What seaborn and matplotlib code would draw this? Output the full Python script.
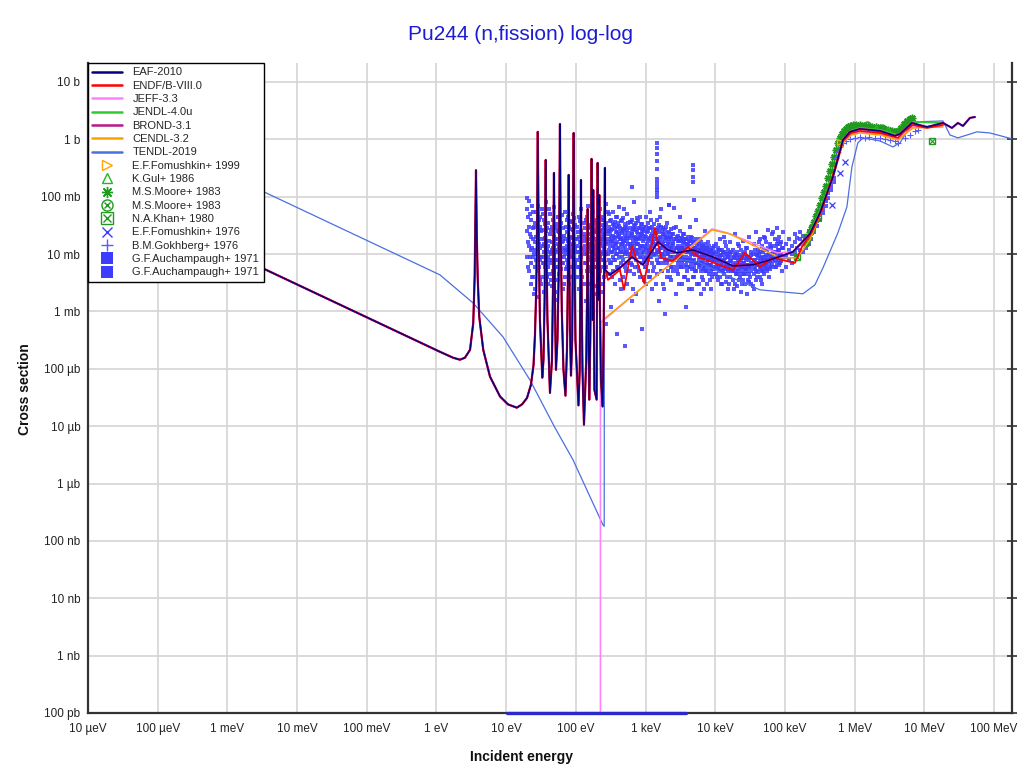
import matplotlib
matplotlib.use("Agg")
import matplotlib.pyplot as plt
from matplotlib.lines import Line2D
import pandas as pd
import seaborn as sns

# ── evaluated data (energy in eV, cross section in b) ─────────
# resolved resonance region shared by EAF-2010, ENDF/B-VIII.0, BROND-3.1
res_e = [1e-5, 3.13e-3, 1.12, 1.73, 2.17, 2.56, 3.03, 3.37, 3.53, 3.60,
         3.69, 3.78, 3.90, 4.11, 4.69, 5.86, 8.15, 10.6, 14.2, 16.9,
         19.9, 22.7, 24.7, 25.9, 27.0, 27.8, 28.4,
         29.3, 30.5, 33.0,
         34.3, 35.6, 36.3, 36.9, 37.6, 39.1, 42.5,
         45.4, 46.9, 47.8, 48.5, 49.3, 50.5, 51.8,
         54.4, 56.8, 58.1, 59.1, 60.3, 62.8, 66.4, 70.9,
         74.5, 77.1, 78.9, 80.4, 82.3, 85.1,
         88.5, 90.8, 92.9, 95.1, 98.6, 109,
         113.5, 116.1, 118.4, 120.8, 124.4, 130.7,
         141, 145, 147.6, 150, 155.6,
         161, 165.3, 168, 171.6, 173.4, 175.8, 177.8, 180.7, 184.5,
         198.6, 201.8, 205.1, 208.9, 211.3, 214.3, 217.3, 220.8, 229, 242,
         250.6, 256.8, 261.2]
res_xs = [0.154, 5.75e-3, 1.98e-4, 1.56e-4, 1.44e-4, 1.56e-4, 2.14e-4, 6.3e-4, 4.0e-3, 0.0234,
          0.29, 0.0234, 4.0e-3, 8.05e-4, 2.14e-4, 7.3e-5, 3.3e-5, 2.4e-5, 2.1e-5, 2.4e-5,
          3.1e-5, 5.3e-5, 1.17e-4, 3.9e-4, 2.4e-3, 0.039, 1.35,
          0.0177, 7.1e-4, 7.0e-5,
          1.44e-4, 1.59e-3, 0.0264, 0.437, 0.0177, 7.1e-4, 3.8e-5,
          1.44e-4, 2.38e-3, 0.0264, 0.26, 0.0177, 7.1e-4, 9.6e-5,
          3.2e-4, 5.3e-3, 0.088, 1.85, 0.039, 1.07e-3, 9.6e-5, 3.4e-5,
          2.14e-4, 5.3e-3, 0.24, 7.9e-3, 4.78e-4, 7.6e-5,
          3.2e-4, 0.0177, 1.29, 0.0118, 3.2e-4, 2.3e-5,
          9.6e-5, 3.55e-3, 0.196, 2.38e-3, 9.6e-5, 1.06e-5,
          1.44e-4, 2.38e-3, 0.0612, 1.59e-3, 2.9e-5,
          3.2e-4, 0.0118, 0.456, 5.3e-3, 7.1e-4, 0.0118, 0.131, 1.59e-3, 4.3e-5,
          2.9e-5, 7.9e-3, 0.388, 0.0118, 1.59e-3, 0.0118, 0.107, 1.59e-3, 6.4e-5, 2.2e-5,
          4.78e-4, 0.0177, 0.318]

eaf_fast_e = [263.7, 308, 429, 638, 918, 1507, 2095, 2822, 4786, 9268,
              17950, 34750, 55200, 1.30e5, 2.28e5, 3.18e5, 4.88e5, 6.80e5, 8.56e5, 1.19e6,
              2.31e6, 3.78e6, 4.46e6, 6.64e6, 1.09e7, 1.85e7, 2.49e7, 3.03e7, 3.58e7, 4.51e7,
              5.32e7]
eaf_fast_xs = [5.3e-3, 4.34e-3, 5.75e-3, 8.9e-3, 6.5e-3, 0.0163, 0.0118, 0.0105, 0.0118, 8.9e-3,
               6.2e-3, 6.5e-3, 7.6e-3, 0.0109, 0.0225, 0.0522, 0.221, 0.977, 1.35, 1.52,
               1.40, 1.15, 1.24, 1.93, 1.64, 1.93, 1.58, 1.93, 1.71, 2.36,
               2.45]

endf_fast_e = [263.7, 289, 429, 490, 638, 948, 1365, 1663, 2472, 4055,
               5650, 17950, 26670, 43750, 67300, 1.39e5, 1.75e5, 2.44e5, 3.39e5, 4.88e5,
               6.8e5, 8.85e5, 1.19e6, 2.31e6, 4.18e6, 5.27e6, 6.86e6, 1.09e7, 1.85e7]
endf_fast_xs = [5.3e-3, 3.55e-3, 5.3e-3, 2.38e-3, 0.0139, 3.15e-3, 0.0286, 8.6e-3, 7.6e-3, 0.0133,
                8.9e-3, 5.3e-3, 0.0105, 6.0e-3, 8.6e-3, 7.0e-3, 0.0133, 0.0244, 0.0589, 0.24,
                0.938, 1.29, 1.40, 1.29, 1.06, 1.40, 1.78, 1.58, 1.78]

jeff_e = [225, 225, 8970, 14720, 31480, 76700, 1.30e5, 2.07e5, 3.18e5, 4.88e5,
          6.8e5, 8.85e5, 1.19e6, 2.31e6, 4.18e6, 6.86e6, 1.85e7]
jeff_xs = [1e-13, 6.3e-4, 0.0275, 0.0234, 0.0163, 0.0105, 0.0109, 0.0177, 0.0543, 0.221,
           0.901, 1.24, 1.35, 1.24, 0.977, 1.64, 1.71]

cendl_e = [245, 8970, 16270, 31480, 84800, 1.49e5, 2.28e5, 3.18e5, 4.88e5, 6.8e5,
           8.85e5, 1.19e6, 2.31e6, 4.18e6, 6.86e6, 1.85e7]
cendl_xs = [7.1e-4, 0.0264, 0.0225, 0.0151, 8.6e-3, 8.6e-3, 0.0177, 0.0482, 0.213, 0.866,
            1.19, 1.29, 1.19, 0.977, 1.58, 1.64]

jendl_e = [1.30e5, 2.28e5, 3.18e5, 4.88e5, 6.8e5, 8.85e5, 1.19e6, 2.31e6, 4.18e6, 6.86e6, 1.85e7]
jendl_xs = [0.0105, 0.0234, 0.0566, 0.24, 1.02, 1.40, 1.58, 1.46, 1.19, 2.01, 1.93]

tendl_e = [1e-5, 3.13e-3, 1.12, 3.34, 9.0, 21.9, 50.1, 90.8, 245, 255,
           257, 832, 5650, 16270, 43750, 1.81e5, 2.69e5, 3.51e5, 5.75e5, 7.74e5,
           9.14e5, 1.11e6, 1.32e6, 2.31e6, 3.54e6, 4.46e6, 6.86e6, 1.85e7, 2.33e7, 3.03e7,
           5.69e7, 8.73e7, 1.81e8]
tendl_xs = [2.09, 0.126, 4.34e-3, 1.41e-3, 3.6e-4, 6.4e-5, 9.4e-6, 2.6e-6, 1.9e-7, 1.8e-7,
            7.3e-3, 9.7e-3, 7.3e-3, 4.0e-3, 2.38e-3, 2.03e-3, 2.9e-3, 5.75e-3, 0.0234, 0.0664,
            0.331, 0.866, 1.06, 0.938, 0.737, 0.866, 2.01, 2.09, 1.19, 1.06,
            1.35, 1.29, 1.02]

# ── experimental data ─────────────────────────────────────────
fom99_e, fom99_xs = [6.15e5], [0.90]
gul86_e, gul86_xs = [2.0e6, 3.0e6], [1.55, 1.45]
moore_star_e = [2.00e5, 2.14e5, 2.28e5, 2.44e5, 2.61e5, 2.79e5, 2.97e5, 3.18e5, 3.40e5, 3.63e5,
                3.87e5, 4.14e5, 4.42e5, 4.72e5, 5.05e5, 5.39e5, 5.75e5, 6.15e5, 6.57e5, 7.02e5,
                7.50e5, 8.01e5, 8.56e5, 9.45e5, 1.04e6, 1.19e6, 1.36e6, 1.55e6, 1.77e6, 2.02e6,
                2.31e6, 2.63e6, 3.01e6, 3.43e6, 3.78e6, 4.18e6, 4.61e6, 5.09e6, 5.62e6, 6.21e6,
                6.64e6]
moore_star_xs = [0.0157, 0.0191, 0.0244, 0.0298, 0.0364, 0.0463, 0.0566, 0.0719, 0.0953, 0.121,
                 0.154, 0.213, 0.281, 0.373, 0.493, 0.653, 0.866, 1.06, 1.24, 1.40,
                 1.52, 1.64, 1.71, 1.78, 1.78, 1.78, 1.71, 1.71, 1.64, 1.64,
                 1.58, 1.52, 1.46, 1.40, 1.35, 1.40, 1.58, 1.85, 2.09, 2.27,
                 2.36]
moore_cx_e, moore_cx_xs = [1.5e6, 2.5e6], [1.75, 1.6]
khan_e, khan_xs = [1.49e5, 2.0e5, 2.97e5, 1.29e7], [8.9e-3, 0.0199, 0.0445, 0.938]
fom76_e, fom76_xs = [4.68e5, 6.15e5, 7.26e5], [0.0719, 0.26, 0.404]
gokh_e = [5.39e5, 5.75e5, 6.15e5, 6.80e5, 7.50e5, 8.56e5, 1.01e6, 1.19e6, 1.41e6, 1.60e6,
          1.95e6, 2.31e6, 2.72e6, 3.21e6, 3.78e6, 4.18e6, 5.27e6, 6.21e6, 7.33e6, 8.09e6]
gokh_xs = [0.474, 0.602, 0.737, 0.866, 0.938, 1.02, 1.06, 1.10, 1.06, 1.10,
           1.06, 1.06, 1.02, 0.977, 0.938, 0.866, 1.06, 1.19, 1.40, 1.46]

# G.F.Auchampaugh 1971: energy columns (eV) with the cross sections (mb) read in each
cloud_a_e = [20, 21.4, 22.9, 24.5, 26.3, 28.2, 30.2, 32.4, 34.7, 37.2, 39.8, 42.7,
             45.7, 49, 52.5, 56.2, 60.3, 64.6, 69.2, 74.1, 79.4, 85.1, 91.2, 97.7]
cloud_a_mb = [[95, 60, 25, 9], [85, 14, 5, 30], [40, 12, 7, 3, 20], [55, 18, 9, 4, 28],
              [12, 35, 6, 2.5, 16], [70, 22, 10, 5, 1.8], [30, 13, 8, 45, 3.5], [18, 9, 26, 4, 60],
              [40, 15, 7, 2.2, 11], [25, 10, 5, 80, 16], [14, 35, 6, 9, 3], [22, 11, 50, 4.5, 7],
              [16, 30, 8, 2.8, 12], [65, 20, 10, 5, 14], [28, 12, 6, 1.6, 18], [45, 15, 8, 3.5, 25],
              [20, 11, 35, 5.5, 9], [13, 28, 7, 2.5, 17], [55, 18, 10, 4, 12], [24, 14, 8, 40, 6],
              [16, 30, 9, 3, 11], [38, 20, 12, 6, 14], [26, 15, 9, 50, 4], [18, 32, 11, 7, 13]]
cloud_a2_e = [20.7, 22.1, 23.7, 25.4, 27.2, 29.2, 31.3, 33.5, 35.9, 38.5, 41.2, 44.2,
              47.3, 50.7, 54.3, 58.2, 62.4, 66.9, 71.6, 76.7, 82.2, 88.1, 94.4]
cloud_a2_mb = [[45, 16, 6], [22, 9, 50], [70, 13, 4], [30, 10, 2], [20, 8, 55], [15, 40, 6],
               [25, 9, 3], [50, 14, 7], [19, 6, 33], [12, 28, 4], [60, 17, 8], [26, 10, 3.5],
               [40, 13, 5], [18, 8, 2.2], [33, 11, 6], [14, 24, 4.5], [48, 16, 7], [21, 9, 3],
               [30, 12, 5.5], [17, 45, 7], [27, 10, 4], [19, 9, 36], [42, 15, 6]]
cloud_b_e = [105, 112, 120, 129, 138, 148, 158, 170, 182, 195, 209, 224, 240, 257, 275, 295,
             316, 339, 363, 389, 417, 447, 479, 513, 550, 589, 631, 676, 724, 776, 832, 891, 955]
cloud_b_mb = [[30, 14, 8, 4, 18], [45, 20, 11, 6, 2.5], [25, 13, 9, 60, 5], [35, 17, 10, 3, 22],
              [20, 12, 7, 40, 1.5], [28, 15, 9, 5, 70], [18, 11, 32, 6, 13], [50, 22, 12, 4, 16],
              [26, 14, 8, 2, 35], [40, 18, 10, 6, 24], [22, 13, 30, 7, 3.5], [60, 25, 15, 9, 5, 19],
              [32, 18, 11, 45, 6, 2.2], [28, 20, 13, 8, 40, 4], [35, 22, 15, 10, 6, 75, 0.6],
              [30, 18, 12, 25, 8, 4.5, 50], [40, 26, 16, 11, 7, 20, 1.2], [33, 21, 14, 9, 55, 5, 17],
              [28, 19, 12, 36, 8, 3, 15], [45, 24, 16, 10, 6, 30, 0.4], [31, 20, 13, 9, 22, 5.5, 65],
              [38, 25, 15, 11, 7, 18, 2.5], [27, 19, 13, 42, 8, 4, 16], [34, 22, 14, 10, 28, 6, 0.25],
              [50, 26, 17, 11, 7, 20, 3], [29, 19, 13, 36, 9, 5, 15], [40, 24, 15, 10, 22, 6.5, 1.5, 150],
              [32, 20, 14, 9, 27, 4.5, 80], [26, 18, 12, 35, 8, 16, 2], [37, 22, 15, 10, 6, 19],
              [28, 19, 13, 45, 9, 4], [33, 21, 14, 10, 24, 7, 0.5], [25, 18, 12, 30, 8, 3.5]]
cloud_b2_e = [108, 116, 124, 133, 143, 153, 164, 176, 188, 202, 216, 232, 248, 266, 285, 305,
              327, 351, 376, 403, 432, 463, 496, 531, 569, 610, 653, 700, 750, 804, 861, 923, 988]
cloud_b2_mb = [[24, 11, 6], [16, 9, 38], [20, 12, 4], [28, 14, 7], [18, 10, 5, 45], [22, 13, 3],
               [30, 15, 8], [19, 11, 55], [24, 12, 6, 2.8], [16, 9, 30], [36, 20, 12, 5],
               [26, 16, 10, 40], [22, 14, 8, 3], [30, 18, 11, 6], [25, 16, 10, 55], [38, 22, 14, 7],
               [27, 17, 11, 4], [32, 20, 13, 8], [24, 15, 10, 45], [35, 21, 13, 6], [28, 18, 11, 3.5],
               [40, 23, 15, 9], [26, 17, 11, 60], [30, 19, 12, 5], [23, 15, 10, 35], [36, 21, 13, 7],
               [27, 17, 11, 2.5], [31, 19, 12, 6], [24, 15, 10, 42], [29, 18, 12, 5], [22, 14, 9, 33],
               [27, 17, 11, 4], [21, 14, 9, 6]]
cloud_c_e = [1020, 1090, 1170, 1250, 1340, 1440, 1540, 1650, 1770, 1900, 2040, 2190, 2340,
             2510, 2690, 2880, 3090, 3310, 3550, 3800, 4070, 4370, 4680, 5010, 5370, 5750,
             6170, 6610, 7080, 7590, 8130, 8710, 9330]
cloud_c_mb = [[30, 20, 13, 9, 6, 45, 3], [25, 17, 12, 8, 35, 5], [28, 19, 13, 9, 55, 4],
              [22, 16, 11, 7, 30, 2.5], [34, 21, 14, 10, 6, 18], [26, 18, 12, 8, 40, 4.5],
              [24, 16, 11, 7, 32, 1.5], [30, 19, 13, 9, 5, 60], [22, 15, 10, 7, 28, 3],
              [26, 17, 12, 8, 20, 0.9], [20, 14, 10, 7, 35, 4], [24, 16, 11, 8, 18, 72],
              [19, 13, 9, 6, 27, 3.5], [22, 15, 11, 8, 16, 5], [18, 13, 9, 6, 30, 2],
              [21, 14, 10, 7, 17, 4.5], [17, 12, 9, 6, 25, 45], [19, 13, 9, 7, 14, 3],
              [16, 12, 8, 6, 22, 4], [18, 13, 9, 6.5, 15, 1.2], [15, 11, 8, 6, 20, 3.5],
              [17, 12, 8.5, 6, 13, 30], [14, 10, 7.5, 5.5, 19, 2.5], [16, 11, 8, 6, 12, 4],
              [13, 10, 7, 5, 18, 40], [15, 11, 8, 6, 12, 3], [12, 9, 7, 5, 16, 2],
              [14, 10, 7.5, 5.5, 11, 3.5], [12, 9, 6.5, 5, 15, 25], [13, 9.5, 7, 5, 10, 3],
              [11, 8.5, 6.5, 4.5, 14], [12, 9, 6.5, 5, 10, 2.5], [10.5, 8, 6, 4.5, 13]]
cloud_c2_e = [1055, 1130, 1210, 1295, 1390, 1490, 1595, 1710, 1835, 1970, 2115, 2265, 2425,
              2600, 2785, 2985, 3200, 3430, 3675, 3935, 4220, 4520, 4845, 5190, 5560, 5960,
              6390, 6840, 7330, 7860, 8420, 9020, 9660]
cloud_c2_mb = [[24, 15, 10, 7], [29, 18, 11, 4], [21, 14, 9, 40], [26, 16, 10, 5], [23, 15, 10, 3],
               [28, 17, 11, 7], [20, 13, 9, 45], [25, 16, 10, 5], [22, 14, 9, 2.5], [19, 12, 8, 30],
               [23, 15, 10, 5], [20, 13, 9, 4], [22, 14, 9, 6], [18, 12, 8, 28], [20, 13, 9, 5],
               [17, 12, 8, 3], [19, 13, 9, 6], [16, 11, 8, 22], [18, 12, 8, 4], [15, 11, 7.5, 5],
               [17, 12, 8, 2.5], [14, 10, 7, 20], [16, 11, 7.5, 4], [13, 9.5, 7, 5], [15, 10, 7, 3],
               [13, 9, 6.5, 18], [14, 10, 7, 4], [12, 9, 6, 2.5], [13, 9.5, 6.5, 5], [11, 8, 6, 16],
               [12, 9, 6.5, 3.5], [11, 8, 5.5, 4], [10, 7.5, 5.5, 14]]
cloud_d_e = [10200, 10900, 11700, 12500, 13400, 14400, 15400, 16500, 17700, 19000, 20400,
             21900, 23400, 25100, 26900, 28800, 30900, 33100, 35500, 38000, 40700, 43700,
             46800, 50100, 53700, 57500, 61700, 66100, 70800, 75900, 81300, 87100, 93300]
cloud_d_mb = [[11, 8, 6, 4.5, 15], [10, 7.5, 5.5, 13, 3.5], [12, 8.5, 6, 4, 18], [9.5, 7, 5, 12, 3],
              [11, 8, 6, 4.5, 20], [10, 7, 5.5, 14, 3.2], [9, 6.5, 5, 12, 2.5], [10.5, 7.5, 5.5, 4, 16],
              [9, 6.5, 5, 3.5, 12], [10, 7, 5, 3, 22], [8.5, 6.5, 4.5, 11, 2.8], [9.5, 7, 5, 3.5, 14],
              [8, 6, 4.5, 12, 2.2], [10, 7, 5, 3.5, 17], [8.5, 6, 4.5, 3, 11], [9, 6.5, 5, 13, 2],
              [8, 6, 4.5, 3.2, 20], [9.5, 7, 5, 11, 3], [8, 6, 4.5, 15, 2.5], [10, 7, 5, 3.5, 24],
              [8.5, 6.5, 4.8, 12], [11, 7.5, 5.5, 4, 18], [9, 6.5, 5, 14, 3], [12, 8, 6, 4.5, 20],
              [9.5, 7, 5.5, 16], [13, 8.5, 6, 26], [10, 7.5, 5.5, 15], [14, 9, 6.5, 22],
              [11, 8, 6, 18], [15, 10, 7, 28], [12, 8.5, 6.5, 20], [16, 10, 7.5], [13, 9, 24]]
cloud_d2_e = [10550, 11300, 12100, 12950, 13900, 14900, 15950, 17100, 18350, 19700, 21150,
              22650, 24250, 26000, 27850, 29850, 32000, 34300, 36750, 39350, 42200, 45200,
              48450, 51900, 55600, 59600, 63850, 68400, 73300, 78550, 84150, 90150]
cloud_d2_mb = [[9, 6.5, 4], [12, 8, 5], [9.5, 6.5, 3], [11, 7.5, 5], [8.5, 6, 16], [10, 7, 4],
               [9, 6, 3], [11, 7.5, 5], [8.5, 6, 2.5], [9.5, 6.5, 4.5], [8, 5.5, 15], [9, 6.5, 4],
               [8.5, 6, 3], [10, 7, 4.5], [8, 5.5, 13], [9, 6.5, 3.5], [8.5, 6, 4], [10, 7, 2.8],
               [8, 5.5, 12], [9.5, 6.5, 4], [10, 7, 16], [8.5, 6, 3.5], [11, 7.5, 5], [9, 6.5, 19],
               [12, 8, 5], [10, 7, 4], [13, 8.5, 6], [11, 7.5, 24], [14, 9, 6], [12, 8, 17],
               [15, 10, 7], [13, 9, 5]]
cloud_e_e = [105000, 115000, 125000, 138000, 150000, 165000, 180000, 200000, 220000,
             240000, 265000, 290000, 320000, 350000, 385000, 420000, 460000, 500000]
cloud_e_mb = [[15, 9, 6], [12, 8, 18], [10, 14, 7], [16, 11, 22], [13, 19, 9], [18, 24, 12],
              [15, 21, 11], [17, 13, 21], [20, 15, 25], [23, 18, 28], [30, 24, 36], [38, 31, 46],
              [48, 40, 56], [62, 52], [85, 70], [115, 95], [155, 130], [210, 180]]
cloud_streak_e = [1460, 4800, 2200, 2600, 5000]
cloud_streak_mb = [[870, 700, 560, 420, 300, 200, 170, 150, 130, 115, 100],
                   [360, 290, 220, 180], [72], [63], [88]]
# points reported as zero, drawn on the lower frame
zero_e = [10.3, 3800]

x_ticks = [1e-5, 1e-4, 1e-3, 1e-2, 1e-1, 1, 10, 100, 1e3, 1e4, 1e5, 1e6, 1e7, 1e8]
x_labels = ["10 µeV", "100 µeV", "1 meV", "10 meV", "100 meV", "1 eV", "10 eV", "100 eV",
            "1 keV", "10 keV", "100 keV", "1 MeV", "10 MeV", "100 MeV"]
y_ticks = [1e-10, 1e-9, 1e-8, 1e-7, 1e-6, 1e-5, 1e-4, 1e-3, 1e-2, 1e-1, 1, 10]
y_labels = ["100 pb", "1 nb", "10 nb", "100 nb", "1 µb", "10 µb", "100 µb", "1 mb",
            "10 mb", "100 mb", "1 b", "10 b"]

C_EAF, C_ENDF, C_JEFF, C_JENDL = "#000080", "#ff0000", "#ff7fff", "#2ecc2e"
C_BROND, C_CENDL, C_TENDL = "#b8168a", "#ffa000", "#4a70e0"
C_DATA = "#3c3cff"

sns.set_theme(style="whitegrid")
plt.rcParams["font.family"] = ["Liberation Sans", "DejaVu Sans"]

fig = plt.figure(figsize=(10.24, 7.73), dpi=100)
ax = fig.add_axes([88 / 1024, 60 / 773, 924 / 1024, 650 / 773])
ax.set_xscale("log")
ax.set_yscale("log")
ax.set_xlim(1e-5, 1.81e8)
ax.set_ylim(1e-10, 21.4)


def columns(energies, cols):
    e, s = [], []
    for en, col in zip(energies, cols):
        e += [en] * len(col)
        s += [v * 1e-3 for v in col]
    return e, s


cloud_e, cloud_s = [], []
for ce, cm in [(cloud_a_e, cloud_a_mb), (cloud_a2_e, cloud_a2_mb),
               (cloud_b_e, cloud_b_mb), (cloud_b2_e, cloud_b2_mb),
               (cloud_c_e, cloud_c_mb), (cloud_c2_e, cloud_c2_mb),
               (cloud_d_e, cloud_d_mb), (cloud_d2_e, cloud_d2_mb),
               (cloud_e_e, cloud_e_mb), (cloud_streak_e, cloud_streak_mb)]:
    e, s = columns(ce, cm)
    cloud_e += e
    cloud_s += s
sns.scatterplot(x=cloud_e, y=cloud_s, marker="s", s=5, color=C_DATA, linewidth=0,
                alpha=0.85, ax=ax, zorder=2)


def curve(e, xs, color, lw, z, **kw):
    df = pd.DataFrame({"E": e, "xs": xs})
    sns.lineplot(data=df, x="E", y="xs", sort=False, estimator=None, errorbar=None,
                 color=color, lw=lw, ax=ax, zorder=z, **kw)


curve(tendl_e, tendl_xs, C_TENDL, 0.9, 3)

# fast-region experimental points
ax.plot(moore_star_e, moore_star_xs, ls="none", marker=(8, 2, 0), ms=5.5, mew=1.1,
        color="#1f9a1f", zorder=3)
ax.plot(gul86_e, gul86_xs, ls="none", marker="^", ms=5, mfc="none", mec="#22b822", zorder=3)
ax.plot(moore_cx_e, moore_cx_xs, ls="none", marker="o", ms=5, mfc="none", mec="#1f9a1f", zorder=3)
ax.plot(khan_e, khan_xs, ls="none", marker="s", ms=5, mfc="none", mec="#1f9a1f", mew=1.0, zorder=3)
ax.plot(khan_e, khan_xs, ls="none", marker="x", ms=4, color="#1f9a1f", mew=0.8, zorder=3)
ax.plot(gokh_e, gokh_xs, ls="none", marker="+", ms=4, color="#5a5aff", mew=0.8, zorder=3)
ax.plot(fom76_e, fom76_xs, ls="none", marker="x", ms=5, color=C_DATA, mew=0.9, zorder=3)
ax.plot(fom99_e, fom99_xs, ls="none", marker=">", ms=5, mfc="none", mec="#ffa500", zorder=3)

curve(jeff_e, jeff_xs, C_JEFF, 1.1, 4)
curve(cendl_e, cendl_xs, C_CENDL, 1.1, 4.1)
curve(jendl_e, jendl_xs, C_JENDL, 1.3, 4.2)
curve(res_e + eaf_fast_e, res_xs + eaf_fast_xs, C_BROND, 1.6, 4.3)
curve(res_e + endf_fast_e, res_xs + endf_fast_xs, C_ENDF, 1.3, 4.4)
curve(res_e + eaf_fast_e, res_xs + eaf_fast_xs, C_EAF, 1.0, 4.5)
curve(zero_e, [1e-10, 1e-10], "#2a2ac8", 2.4, 6, clip_on=False)

# ── axes styling ─────────────────────────────────────────────
ax.minorticks_off()
ax.set_xticks(x_ticks)
ax.set_xticklabels(x_labels)
ax.set_yticks(y_ticks)
ax.set_yticklabels(y_labels)
ax.set_xlabel("")
ax.set_ylabel("")
ax.grid(True, which="major", color="#d4d4d4", lw=1.2)
ax.set_axisbelow(True)
for side in ["left", "bottom", "right"]:
    ax.spines[side].set_color("#333333")
    ax.spines[side].set_linewidth(1.6)
ax.spines["top"].set_visible(False)
ax.tick_params(axis="both", which="major", direction="inout", length=7, width=1.2,
               color="#333333", labelsize=8.5, labelcolor="#222222")
ax.tick_params(axis="x", pad=4)
ax.tick_params(axis="y", pad=2, right=True, labelright=False)

fig.text(521 / 1024, 1 - 35 / 773, "Pu244 (n,fission) log-log", ha="center", va="center",
         fontsize=15, color="#1c1cd2")
fig.text(521 / 1024, 1 - 757 / 773, "Incident energy", ha="center", va="center",
         fontsize=10, fontweight="bold", color="#111111")
fig.text(25 / 1024, 1 - 389 / 773, "Cross section", ha="center", va="center",
         rotation=90, fontsize=10, fontweight="bold", color="#111111")

# ── legend ───────────────────────────────────────────────────
def mk(marker, color, ms=7, filled=False, mew=1.0):
    return Line2D([], [], ls="none", marker=marker, ms=ms, mew=mew, color=color,
                  mfc=color if filled else "none", mec=color)


handles = [
    Line2D([], [], color=C_EAF, lw=1.8),
    Line2D([], [], color=C_ENDF, lw=1.8),
    Line2D([], [], color=C_JEFF, lw=1.8),
    Line2D([], [], color=C_JENDL, lw=1.8),
    Line2D([], [], color=C_BROND, lw=1.8),
    Line2D([], [], color=C_CENDL, lw=1.8),
    Line2D([], [], color=C_TENDL, lw=1.8),
    mk(">", "#ffa500"),
    mk("^", "#22b822"),
    Line2D([], [], ls="none", marker=(8, 2, 0), ms=8, mew=1.0, color="#1f9a1f"),
    (mk("o", "#1f9a1f", ms=8), mk("x", "#1f9a1f", ms=5)),
    (mk("s", "#1f9a1f", ms=8), mk("x", "#1f9a1f", ms=6)),
    mk("x", C_DATA, ms=7),
    mk("+", "#5a5aff", ms=9),
    mk("s", C_DATA, ms=8, filled=True, mew=0),
    mk("s", C_DATA, ms=8, filled=True, mew=0),
]
labels = ["EAF-2010", "ENDF/B-VIII.0", "JEFF-3.3", "JENDL-4.0u", "BROND-3.1", "CENDL-3.2",
          "TENDL-2019", "E.F.Fomushkin+ 1999", "K.Gul+ 1986", "M.S.Moore+ 1983",
          "M.S.Moore+ 1983", "N.A.Khan+ 1980", "E.F.Fomushkin+ 1976", "B.M.Gokhberg+ 1976",
          "G.F.Auchampaugh+ 1971", "G.F.Auchampaugh+ 1971"]
leg = ax.legend(handles, labels, loc="upper left", bbox_to_anchor=(0, 1), borderaxespad=0,
                fontsize=8, frameon=True, fancybox=False, framealpha=1, edgecolor="black",
                handlelength=2.7, handletextpad=0.9, labelspacing=0.3, borderpad=0.4)
leg.get_frame().set_linewidth(1.0)
leg.set_zorder(10)

fig.savefig("out.png", dpi=100)
